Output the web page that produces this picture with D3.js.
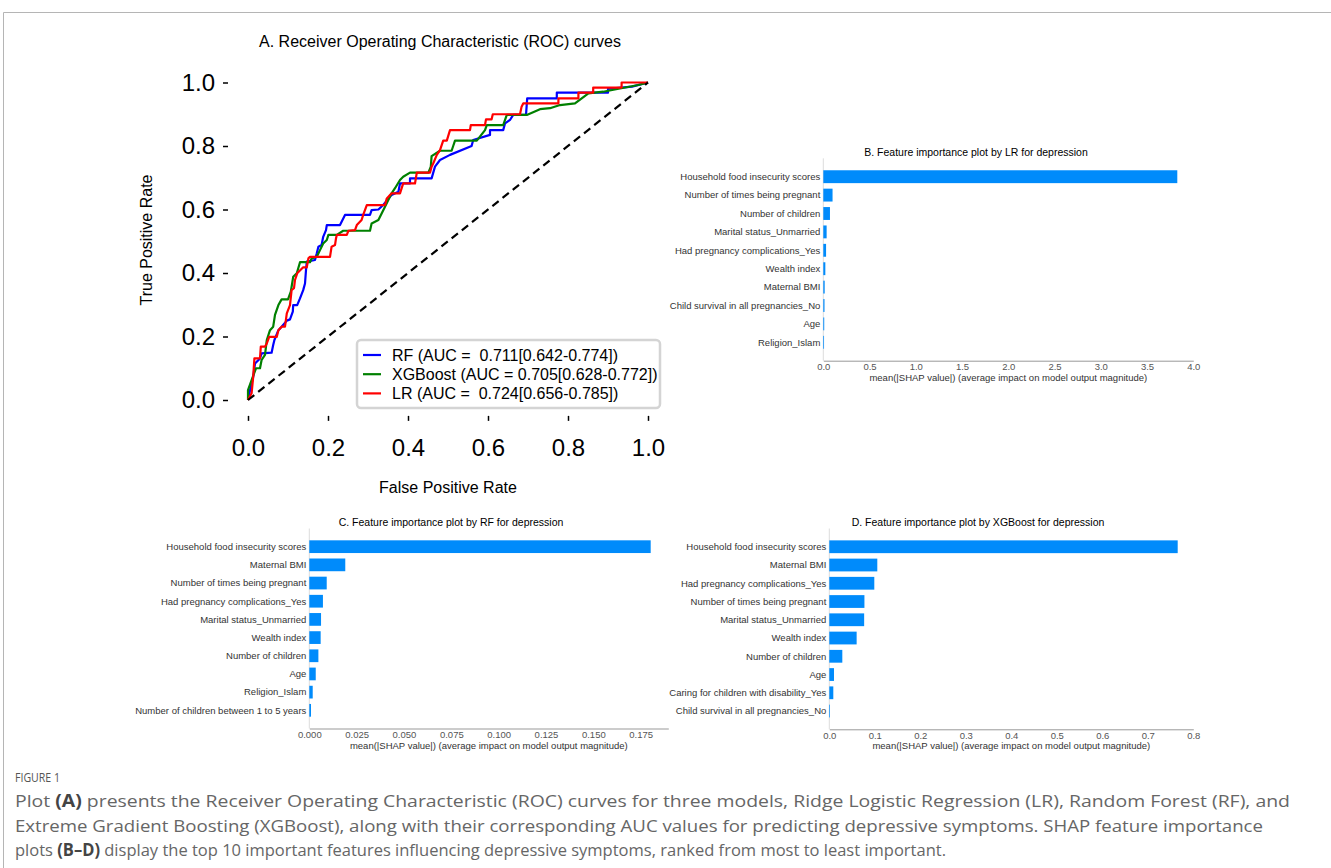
<!DOCTYPE html>
<html>
<head>
<meta charset="utf-8">
<script src="https://cdn.jsdelivr.net/npm/d3@7"></script>
<style>
  body { margin: 0; background: #fff; }
  text { font-family: "Liberation Sans", Arial, sans-serif; }
</style>
</head>
<body>
<div id="chart"></div>
<script>
// ROC curves, [false positive rate, true positive rate]
var rfRoc = [[0,0],[0.005,0.03],[0.013,0.073],[0.0175,0.115],[0.03,0.131],[0.034,0.147],[0.059,0.149],[0.063,0.173],[0.066,0.189],[0.076,0.22],[0.084,0.231],[0.097,0.25],[0.105,0.254],[0.112,0.278],[0.113,0.299],[0.123,0.299],[0.13,0.32],[0.138,0.346],[0.1425,0.367],[0.145,0.409],[0.147,0.436],[0.1675,0.441],[0.172,0.462],[0.176,0.483],[0.184,0.488],[0.188,0.514],[0.195,0.535],[0.197,0.551],[0.23,0.551],[0.2425,0.583],[0.305,0.583],[0.309,0.598],[0.326,0.60],[0.338,0.614],[0.359,0.646],[0.376,0.656],[0.38,0.682],[0.405,0.682],[0.405,0.698],[0.459,0.698],[0.4675,0.735],[0.48,0.756],[0.505,0.772],[0.559,0.80],[0.563,0.819],[0.605,0.835],[0.605,0.85],[0.638,0.85],[0.6425,0.871],[0.655,0.882],[0.663,0.898],[0.695,0.898],[0.698,0.95],[0.772,0.95],[0.772,0.968],[0.90,0.968],[0.90,0.98],[0.96,0.987],[1,1]];
var xgbRoc = [[0,0],[0,0.031],[0.009,0.063],[0.02,0.10],[0.03,0.10],[0.034,0.126],[0.0425,0.142],[0.047,0.189],[0.055,0.22],[0.063,0.231],[0.0675,0.268],[0.076,0.299],[0.084,0.317],[0.10,0.317],[0.107,0.341],[0.113,0.388],[0.122,0.399],[0.13,0.434],[0.155,0.434],[0.159,0.446],[0.172,0.451],[0.18,0.472],[0.188,0.493],[0.197,0.504],[0.201,0.52],[0.222,0.52],[0.238,0.533],[0.305,0.533],[0.309,0.556],[0.326,0.567],[0.3425,0.609],[0.359,0.651],[0.3675,0.667],[0.38,0.693],[0.388,0.703],[0.405,0.716],[0.451,0.716],[0.457,0.735],[0.459,0.768],[0.48,0.785],[0.509,0.785],[0.513,0.80],[0.5175,0.817],[0.572,0.817],[0.5925,0.85],[0.597,0.866],[0.638,0.866],[0.647,0.898],[0.697,0.898],[0.73,0.916],[0.755,0.919],[0.78,0.929],[0.8175,0.934],[0.851,0.966],[0.888,0.971],[0.93,0.981],[0.976,0.992],[1,1]];
var lrRoc = [[0,0],[0.009,0.021],[0.013,0.073],[0.016,0.131],[0.03,0.131],[0.032,0.168],[0.0425,0.168],[0.047,0.178],[0.053,0.199],[0.072,0.199],[0.076,0.22],[0.084,0.231],[0.0925,0.231],[0.097,0.273],[0.105,0.299],[0.109,0.346],[0.115,0.352],[0.1175,0.378],[0.123,0.399],[0.138,0.418],[0.147,0.418],[0.151,0.446],[0.155,0.451],[0.205,0.451],[0.209,0.483],[0.2175,0.488],[0.22,0.509],[0.222,0.52],[0.247,0.52],[0.251,0.533],[0.2675,0.535],[0.272,0.551],[0.284,0.567],[0.288,0.583],[0.297,0.614],[0.3425,0.614],[0.347,0.635],[0.359,0.651],[0.38,0.651],[0.388,0.682],[0.4175,0.682],[0.422,0.716],[0.455,0.716],[0.459,0.735],[0.463,0.745],[0.472,0.772],[0.48,0.787],[0.488,0.817],[0.497,0.817],[0.505,0.85],[0.555,0.85],[0.557,0.866],[0.5925,0.866],[0.595,0.884],[0.609,0.884],[0.612,0.90],[0.68,0.90],[0.684,0.924],[0.688,0.934],[0.776,0.934],[0.776,0.95],[0.826,0.95],[0.826,0.968],[0.863,0.968],[0.863,0.984],[0.934,0.984],[0.934,1.0],[1,1]];
var rocLabels = ["RF (AUC =  0.711[0.642-0.774])", "XGBoost (AUC = 0.705[0.628-0.772])", "LR (AUC =  0.724[0.656-0.785])"];
var rocColors = ["#0000ff", "#008000", "#ff0000"];
var rocTicks = [0, 0.2, 0.4, 0.6, 0.8, 1.0];

// SHAP mean |value| per feature, most important first
var lrFeatures = ["Household food insecurity scores", "Number of times being pregnant", "Number of children", "Marital status_Unmarried", "Had pregnancy complications_Yes", "Wealth index", "Maternal BMI", "Child survival in all pregnancies_No", "Age", "Religion_Islam"];
var lrShap = [3.827, 0.10, 0.072, 0.036, 0.030, 0.022, 0.015, 0.013, 0.010, 0.008];
var lrTicks = [0, 0.5, 1.0, 1.5, 2.0, 2.5, 3.0, 3.5, 4.0];

var rfFeatures = ["Household food insecurity scores", "Maternal BMI", "Number of times being pregnant", "Had pregnancy complications_Yes", "Marital status_Unmarried", "Wealth index", "Number of children", "Age", "Religion_Islam", "Number of children between 1 to 5 years"];
var rfShap = [0.1803, 0.0190, 0.0092, 0.0072, 0.0062, 0.0060, 0.0048, 0.0034, 0.0018, 0.0009];
var rfTicks = [0, 0.025, 0.05, 0.075, 0.1, 0.125, 0.15, 0.175];

var xgbFeatures = ["Household food insecurity scores", "Maternal BMI", "Had pregnancy complications_Yes", "Number of times being pregnant", "Marital status_Unmarried", "Wealth index", "Number of children", "Age", "Caring for children with disability_Yes", "Child survival in all pregnancies_No"];
var xgbShap = [0.7657, 0.1055, 0.0989, 0.0772, 0.0766, 0.0601, 0.0286, 0.0103, 0.0088, 0.0015];
var xgbTicks = [0, 0.1, 0.2, 0.3, 0.4, 0.5, 0.6, 0.7, 0.8];

var shapAxisLabel = "mean(|SHAP value|) (average impact on model output magnitude)";

var width = 1331;
var height = 868;

var svg = d3.select("#chart")
    .append("svg")
    .attr("width", width)
    .attr("height", height)
    .style("background", "#fff");

// figure frame (top and left rule)
svg.append("path")
    .attr("d", "M3.5,868 V12.5 H1331")
    .attr("fill", "none")
    .attr("stroke", "#b5b5b5")
    .attr("stroke-width", 1);

// ---------- Panel A: ROC ----------
var rocX = d3.scaleLinear().domain([0, 1]).range([248, 648]);
var rocY = d3.scaleLinear().domain([0, 1]).range([400, 82.5]);
var left = rocX(-0.05), right = rocX(1.035), top = rocY(1.05), bottom = rocY(-0.05);

var roc = svg.append("g");

roc.append("text")
    .attr("x", 440)
    .attr("y", 47)
    .attr("text-anchor", "middle")
    .style("font-size", "16px")
    .text("A. Receiver Operating Characteristic (ROC) curves");

var line = d3.line().x(function (d) { return rocX(d[0]); }).y(function (d) { return rocY(d[1]); });

[rfRoc, xgbRoc, lrRoc].forEach(function (pts, i) {
    roc.append("path")
        .attr("d", line(pts))
        .attr("fill", "none")
        .attr("stroke", rocColors[i])
        .attr("stroke-width", 2.2)
        .attr("stroke-linejoin", "round");
});

// chance line
roc.append("path")
    .attr("d", line([[0, 0], [1, 1]]))
    .attr("stroke", "#000")
    .attr("stroke-width", 2.2)
    .attr("stroke-dasharray", "8,5");

roc.append("rect")
    .attr("x", left).attr("y", top)
    .attr("width", right - left).attr("height", bottom - top)
    .attr("fill", "none")
    .attr("stroke", "#000")
    .attr("stroke-width", 1.5);

var xAxis = d3.axisBottom(rocX).tickValues(rocTicks).tickFormat(d3.format(".1f")).tickSize(5).tickSizeOuter(0).tickPadding(18);
var yAxis = d3.axisLeft(rocY).tickValues(rocTicks).tickFormat(d3.format(".1f")).tickSize(5).tickSizeOuter(0).tickPadding(8);

var gx = roc.append("g").attr("transform", "translate(0," + bottom + ")").call(xAxis);
var gy = roc.append("g").attr("transform", "translate(" + left + ",0)").call(yAxis);
[gx, gy].forEach(function (g) {
    g.select(".domain").remove();
    g.selectAll("line").attr("stroke", "#000").attr("stroke-width", 1.5);
    g.selectAll("text").attr("fill", "#000").style("font-size", "24px").style("font-family", "'Liberation Sans', Arial, sans-serif");
});

roc.append("text")
    .attr("x", 448).attr("y", 493)
    .attr("text-anchor", "middle")
    .style("font-size", "16px")
    .text("False Positive Rate");

roc.append("text")
    .attr("transform", "translate(152,240) rotate(-90)")
    .attr("text-anchor", "middle")
    .style("font-size", "16px")
    .text("True Positive Rate");

// legend
var leg = roc.append("g");
leg.append("rect")
    .attr("x", 357).attr("y", 340)
    .attr("width", 303).attr("height", 68)
    .attr("rx", 4)
    .attr("fill", "#fff").attr("fill-opacity", 0.85)
    .attr("stroke", "#d4d4d4").attr("stroke-width", 2.5);
rocLabels.forEach(function (lab, i) {
    var yy = 355 + i * 19.2;
    leg.append("line")
        .attr("x1", 363).attr("x2", 381)
        .attr("y1", yy).attr("y2", yy)
        .attr("stroke", rocColors[i]).attr("stroke-width", 2.2);
    leg.append("text")
        .attr("x", 392).attr("y", yy)
        .attr("dy", "0.36em")
        .style("font-size", "16px")
        .style("white-space", "pre")
        .text(lab);
});

// ---------- Panels B-D: SHAP bar plots ----------
function drawShap(o) {
    var g = svg.append("g");
    var x = d3.scaleLinear().domain(o.domain).range(o.xRange);
    var y = d3.scaleBand().domain(o.features).range(o.yRange).paddingInner(0.3).paddingOuter(0.65);

    g.append("line")
        .attr("x1", x(0)).attr("x2", x(0))
        .attr("y1", o.yRange[0]).attr("y2", o.yRange[1])
        .attr("stroke", "#dddddd").attr("stroke-width", 1);

    g.selectAll("rect.bar")
        .data(o.features)
        .enter()
        .append("rect")
        .attr("class", "bar")
        .attr("x", x(0))
        .attr("y", function (d) { return y(d); })
        .attr("width", function (d, i) { return x(o.values[i]) - x(0); })
        .attr("height", y.bandwidth())
        .attr("fill", "#008bfb");

    g.selectAll("text.feat")
        .data(o.features)
        .enter()
        .append("text")
        .attr("class", "feat")
        .attr("x", x(0) - 3)
        .attr("y", function (d) { return y(d) + y.bandwidth() / 2; })
        .attr("dy", "0.35em")
        .attr("text-anchor", "end")
        .attr("fill", "#333")
        .style("font-size", "9.5px")
        .text(function (d) { return d; });

    var ax = d3.axisBottom(x).tickValues(o.ticks).tickFormat(d3.format(o.fmt)).tickSize(0).tickSizeOuter(0).tickPadding(3);
    var ga = g.append("g").attr("transform", "translate(0," + o.yRange[1] + ")").call(ax);
    ga.select(".domain").attr("stroke", "#999");
    ga.selectAll("text").attr("fill", "#555").style("font-size", "9.5px").style("font-family", "'Liberation Sans', Arial, sans-serif");

    g.append("text")
        .attr("x", (o.xRange[0] + o.xRange[1]) / 2)
        .attr("y", o.yRange[1] + 20)
        .attr("text-anchor", "middle")
        .attr("fill", "#333")
        .style("font-size", "9.5px")
        .text(shapAxisLabel);

    g.append("text")
        .attr("x", o.titleX).attr("y", o.titleY)
        .attr("text-anchor", "middle")
        .style("font-size", "10.5px")
        .text(o.title);
}

drawShap({
    features: lrFeatures, values: lrShap, ticks: lrTicks, fmt: ".1f",
    domain: [0, 4], xRange: [823.3, 1193.3], yRange: [158.3, 360.7],
    title: "B. Feature importance plot by LR for depression", titleX: 976, titleY: 155.5
});
drawShap({
    features: rfFeatures, values: rfShap, ticks: rfTicks, fmt: ".3f",
    domain: [0, 0.1896], xRange: [309.3, 668.3], yRange: [528.5, 728.5],
    title: "C. Feature importance plot by RF for depression", titleX: 451, titleY: 526
});
drawShap({
    features: xgbFeatures, values: xgbShap, ticks: xgbTicks, fmt: ".1f",
    domain: [0, 0.8], xRange: [829.3, 1193.3], yRange: [528.5, 729.3],
    title: "D. Feature importance plot by XGBoost for depression", titleX: 978, titleY: 525.5
});

// ---------- caption ----------
var captionLines = [
    [["Plot ", false], ["(A)", true], [" presents the Receiver Operating Characteristic (ROC) curves for three models, Ridge Logistic Regression (LR), Random Forest (RF), and", false]],
    [["Extreme Gradient Boosting (XGBoost), along with their corresponding AUC values for predicting depressive symptoms. SHAP feature importance", false]],
    [["plots ", false], ["(B\u2013D)", true], [" display the top 10 important features influencing depressive symptoms, ranked from most to least important.", false]]
];
var captionWidths = [1275, 1248, 931];

var cap = svg.append("g").attr("fill", "#666");
cap.append("text")
    .attr("x", 15).attr("y", 782)
    .attr("textLength", 45).attr("lengthAdjust", "spacingAndGlyphs")
    .attr("fill", "#555")
    .style("font-family", "'Open Sans', sans-serif")
    .style("font-size", "12.5px")
    .text("FIGURE 1");

captionLines.forEach(function (parts, i) {
    var t = cap.append("text")
        .attr("x", 15).attr("y", 807 + i * 24.5)
        .attr("textLength", captionWidths[i]).attr("lengthAdjust", "spacingAndGlyphs")
        .style("font-family", "'Open Sans', sans-serif")
        .style("font-size", "17px")
        .style("white-space", "pre");
    parts.forEach(function (p) {
        t.append("tspan")
            .style("font-weight", p[1] ? "bold" : "normal")
            .attr("fill", p[1] ? "#444" : "#666")
            .text(p[0]);
    });
});
</script>
</body>
</html>
